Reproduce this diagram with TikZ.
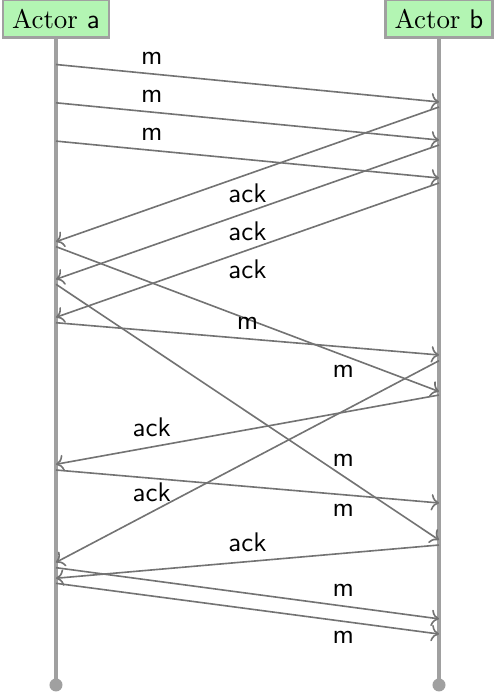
\documentclass[tikz,border=0pt]{standalone}
\usepackage{xcolor}
\usepackage{tikz}
\usetikzlibrary{arrows.meta,positioning,calc}
\definecolor{mgreen}{HTML}{B3F5B3}
\definecolor{mgray}{HTML}{A0A0A0}
\definecolor{mline}{HTML}{737373}
\tikzset{
  mactor/.style={draw=mgray, fill=mgreen, line width=1pt, anchor=south,
                 inner sep=0.333em},
  mlife/.style={mgray, line width=1.4pt},
  mmsg/.style={->, mline, line width=0.6pt},
  mlbl/.style={font=\sffamily, text=black},
}

\begin{document}
\begin{tikzpicture}

  \useasboundingbox (-0.731,0.509) rectangle (5.705,-8.551);

  % atores
  \node[mactor] (acta) at (0,0) {Actor \textsf{a}};
  \node[mactor] (actb) at (5,0) {Actor \textsf{b}};

  % linhas de vida
  \coordinate (enda) at (0,-8.433);
  \coordinate (endb) at (5,-8.433);
  \draw[mlife] (acta.south) -- (enda);
  \draw[mlife] (actb.south) -- (endb);
  \fill[mgray] (enda) circle (0.085);
  \fill[mgray] (endb) circle (0.085);

  % pontos de cada mensagem nas linhas de vida
  \foreach \k/\ya/\yb in {1/0.333/0.822, 2/0.833/1.319, 3/1.333/1.815,
                          4/2.646/0.888, 5/3.137/1.384, 6/3.633/1.880,
                          7/2.711/4.602, 8/3.202/6.540, 9/3.704/4.125,
                          10/6.832/4.200, 11/5.552/4.648, 12/5.627/6.057,
                          13/7.040/6.606, 14/6.902/7.570, 15/7.106/7.768}
  {
    \coordinate (a\k) at (0,-\ya);
    \coordinate (b\k) at (5,-\yb);
  }

  % primeira janela
  \draw[mmsg] (a1) -- node[mlbl, above, pos=0.25] {m} (b1);
  \draw[mmsg] (a2) -- node[mlbl, above, pos=0.25] {m} (b2);
  \draw[mmsg] (a3) -- node[mlbl, above, pos=0.25] {m} (b3);

  % confirmacoes
  \draw[mmsg] (b4) -- node[mlbl, below] {ack} (a4);
  \draw[mmsg] (b5) -- node[mlbl, below] {ack} (a5);
  \draw[mmsg] (b6) -- node[mlbl, below] {ack} (a6);

  % segunda janela
  \draw[mmsg] (a7) -- node[mlbl, below, pos=0.75] {m} (b7);
  \draw[mmsg] (a8) -- node[mlbl, above, pos=0.75] {m} (b8);
  \draw[mmsg] (a9) -- node[mlbl, above] {m} (b9);
  \draw[mmsg] (b10) -- node[mlbl, above, pos=0.75] {ack} (a10);
  \draw[mmsg] (b11) -- node[mlbl, above, pos=0.75] {ack} (a11);
  \draw[mmsg] (a12) -- node[mlbl, below, pos=0.75] {m} (b12);
  \draw[mmsg] (b13) -- node[mlbl, above] {ack} (a13);
  \draw[mmsg] (a14) -- node[mlbl, above, pos=0.75] {m} (b14);
  \draw[mmsg] (a15) -- node[mlbl, below, pos=0.75] {m} (b15);

\end{tikzpicture}
\end{document}
